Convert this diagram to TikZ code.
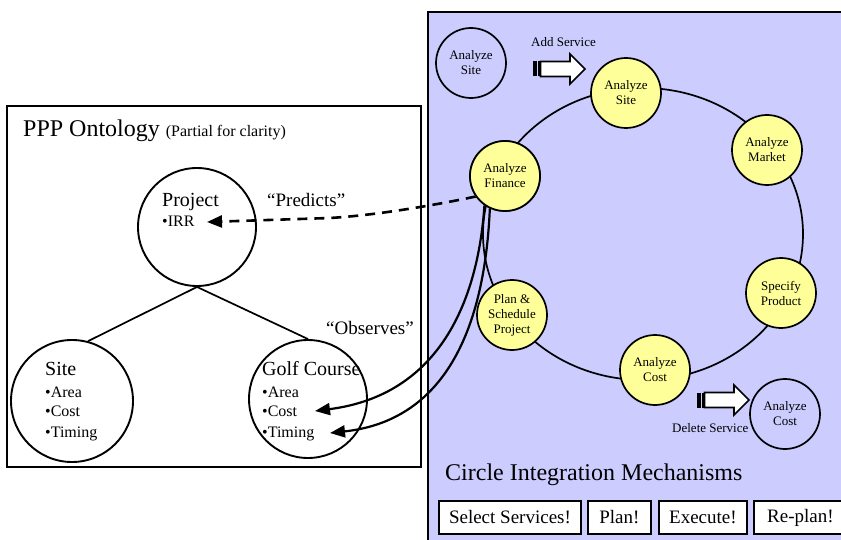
\documentclass[tikz,border=0pt]{standalone}
\usepackage{fontspec}
\setmainfont{Liberation Serif}
\usetikzlibrary{arrows.meta}
\definecolor{panelblue}{RGB}{204,204,255}
\definecolor{svcyellow}{RGB}{255,255,153}
\tikzset{
  service/.style={circle,draw,line width=1.7pt,fill=svcyellow,minimum size=70pt,inner sep=0pt,align=center,font=\fontsize{13}{15}\selectfont},
  freeservice/.style={service,fill=none},
  entity/.style={circle,draw,line width=1.9pt,minimum size=118pt,inner sep=0pt},
  ename/.style={anchor=base west,inner sep=0pt,font=\fontsize{20}{24}\selectfont},
  attr/.style={anchor=base west,inner sep=0pt,font=\fontsize{16}{19}\selectfont},
  mechbtn/.style={draw,fill=white,line width=1.9pt,minimum height=33pt,inner sep=0pt,anchor=north west,font=\fontsize{19}{22}\selectfont},
  rel/.style={line width=2.2pt,-{Triangle[length=15pt,width=12pt]}},
  pics/servicearrow/.style={code={
    \fill (0,-7.5) rectangle (3.5,7.5);
    \fill (5,-7.5) rectangle (6.5,7.5);
    \draw[fill=white,line width=1.6pt] (7.5,-7.5) -- (37,-7.5) -- (37,-15) -- (52,0) -- (37,15) -- (37,7.5) -- (7.5,7.5) -- cycle;
  }}
}
\begin{document}
\begin{tikzpicture}[x=1pt,y=-1pt]
	\useasboundingbox (0,0) rectangle (841,540);
	\clip (0,0) rectangle (841,540);
	
	% the two panels
	\draw[line width=2pt,fill=panelblue] (428,12) rectangle (860,560);
	\draw[line width=2pt] (7,106) rectangle (421,467);
	\node[anchor=base west,inner sep=0pt,font=\fontsize{24}{28}\selectfont] (ppptitle) at (23,137) {PPP Ontology {\fontsize{16}{19}\selectfont (Partial for clarity)}};
	
	% ontology tree
	\node[entity] (proj) at (197,227) {};
	\node[entity,minimum size=122pt] (osite) at (72,401) {};
	\node[entity] (golf) at (308,399) {};
	\draw[line width=1.7pt] (proj.south) -- (osite.75);
	\draw[line width=1.7pt] (proj.south) -- (golf.north);
	\node[ename] (projname) at (162,207) {Project};
	\node[attr] (irr) at (162,227) {\textbullet IRR};
	\node[ename] (sitename) at (45,375) {Site};
	\node[attr] (sarea) at (45,397) {\textbullet Area};
	\node[attr] (scost) at (45,416) {\textbullet Cost};
	\node[attr] (stiming) at (45,437) {\textbullet Timing};
	\node[ename] (golfname) at (262,375) {Golf Course};
	\node[attr] (garea) at (262,397) {\textbullet Area};
	\node[attr] (gcost) at (262,416) {\textbullet Cost};
	\node[attr] (gtiming) at (262,437) {\textbullet Timing};
	\coordinate (irrtip) at (207,222);
	\coordinate (costtip) at (315,411);
	\coordinate (timingtip) at (330,433);
	
	% service circle
	\draw[line width=1.7pt] (643,234) ellipse (160 and 146);
	\node[service] (fin) at (505,176) {Analyze\\Finance};
	\draw[rel,line width=2.6pt,dash pattern=on 10pt off 7pt] (fin.215) .. controls (440,204) and (380,215) .. (330,218) -- (irrtip);
	\draw[rel] (fin.235) .. controls (478,300) and (440,395) .. (costtip);
	\draw[rel] (fin.245) .. controls (485,320) and (450,420) .. (timingtip);
	\node[service] (fin) at (505,176) {Analyze\\Finance};
	\node[service] (site) at (626,93) {Analyze\\Site};
	\node[service] (market) at (767,150) {Analyze\\Market};
	\node[service] (spec) at (781,293) {Specify\\Product};
	\node[service] (cost) at (655,370) {Analyze\\Cost};
	\node[service] (plan) at (512,315) {Plan \&\\Schedule\\Project};
	\node[freeservice] (sitefree) at (471,63) {Analyze\\Site};
	\node[freeservice] (costfree) at (785,414) {Analyze\\Cost};
	\node[anchor=base west,inner sep=0pt,font=\fontsize{19}{22}\selectfont] (predlbl) at (267,207) {“Predicts”};
	\node[anchor=base west,inner sep=0pt,font=\fontsize{19}{22}\selectfont] (obslbl) at (326,334) {“Observes”};
	
	% add / delete
	\pic at (533,69) {servicearrow};
	\pic at (697,400) {servicearrow};
	\node[anchor=base west,inner sep=0pt,font=\fontsize{13}{15}\selectfont] (addlbl) at (531,47) {Add Service};
	\node[anchor=base west,inner sep=0pt,font=\fontsize{13}{15}\selectfont] (dellbl) at (672,432) {Delete Service};
	
	% mechanisms
	\node[anchor=base west,inner sep=0pt,font=\fontsize{24}{28}\selectfont] (mechtitle) at (445,480) {Circle Integration Mechanisms};
	\node[mechbtn,minimum width=142pt] (selbtn) at (438,500) {Select Services!};
	\node[mechbtn,minimum width=63pt] (planbtn) at (587,500) {Plan!};
	\node[mechbtn,minimum width=88pt] (execbtn) at (658,500) {Execute!};
	\node[mechbtn,minimum width=93pt] (replanbtn) at (753,500) {Re-plan!};
\end{tikzpicture}
\end{document}
